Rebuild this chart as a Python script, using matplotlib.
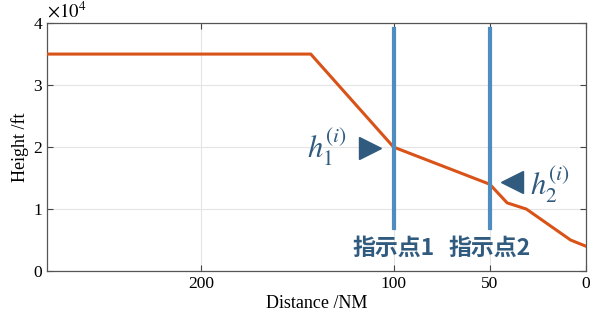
import matplotlib
matplotlib.use('Agg')
import matplotlib.pyplot as plt

# profile data
distance = [280, 143, 100, 50, 41, 31, 8, 0]
height = [35000, 35000, 20000, 14000, 11000, 10000, 5000, 4000]

marker_dist = [100, 50]
marker_labels = ['指示点1', '指示点2']
marker_top = 39000
marker_bottom = 7000

xticks = [200, 100, 50, 0]
yticks = [0, 10000, 20000, 30000, 40000]
ytick_labels = ['0', '1', '2', '3', '4']

orange = '#D95319'
blue = '#4F8CC0'
dark = '#315B7E'

plt.rcParams['font.family'] = ['Liberation Serif', 'DejaVu Serif']
plt.rcParams['mathtext.fontset'] = 'stix'

fig = plt.figure(figsize=(5.98, 3.25), dpi=100)
ax = fig.add_axes([0.0786, 0.166, 0.9014, 0.763])

ax.plot(distance, height, color=orange, lw=2.2, zorder=3)
for d in marker_dist:
	ax.plot([d, d], [marker_bottom, marker_top], color=blue, lw=3, zorder=4)
for d, lab in zip(marker_dist, marker_labels):
	ax.text(d, 3700, lab, ha='center', va='center', fontsize=16.5, fontweight='bold',
	        color=dark, family=['Noto Sans CJK SC', 'DejaVu Sans'])

# arrows and h labels
ax.plot([112], [19900], marker='>', ms=16, color=dark, ls='none', zorder=5)
ax.plot([38.7], [14300], marker='<', ms=16, color=dark, ls='none', zorder=5)
ax.text(124, 20000, r'$h_1^{(i)}$', ha='right', va='center', fontsize=22, color=dark)
ax.text(29, 14000, r'$h_2^{(i)}$', ha='left', va='center', fontsize=22, color=dark)

ax.set_xlim(280, 0)
ax.set_ylim(0, 40000)
ax.set_xticks(xticks)
ax.set_yticks(yticks)
ax.set_yticklabels(ytick_labels)
ax.grid(True, color='#e4e4e4', lw=0.8)
ax.set_axisbelow(True)
ax.tick_params(direction='in', top=True, right=True, labelsize=12.5, length=4, color='#444444')
for s in ax.spines.values():
	s.set_color('#555555')
	s.set_linewidth(0.9)

ax.set_xlabel('Distance /NM', fontsize=13, labelpad=2)
ax.set_ylabel('Height /ft', fontsize=13, labelpad=3)
fig.text(0.0786, 0.933, r'$\times10^4$', fontsize=13.5, ha='left', va='bottom')

fig.savefig('out.png', dpi=100)
